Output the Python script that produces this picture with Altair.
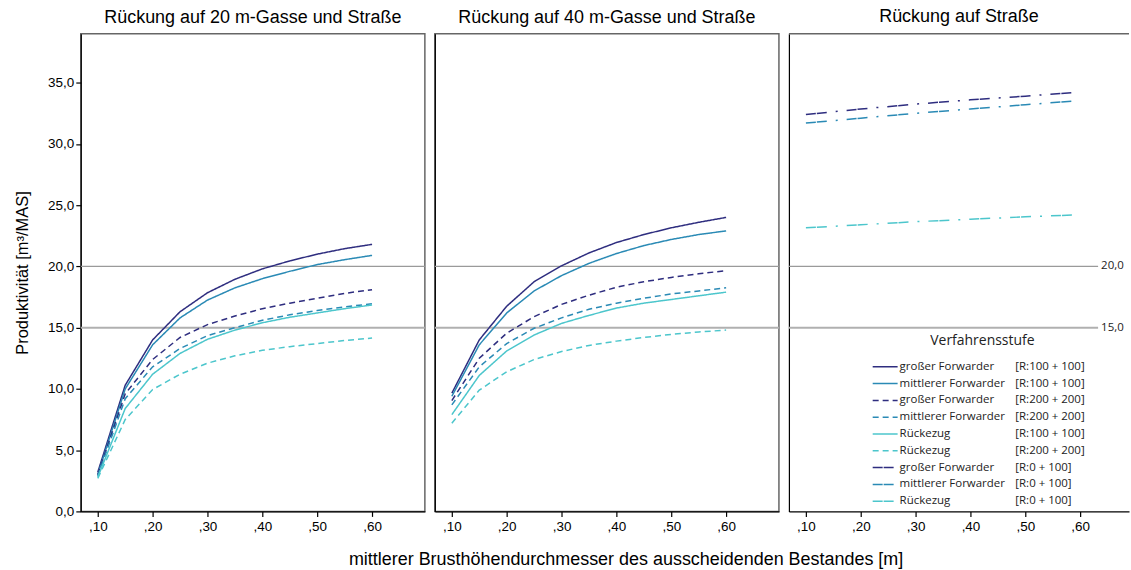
import altair as alt
import pandas as pd

# Mean DBH of the removed trees [m]
DBH = [0.10, 0.15, 0.20, 0.25, 0.30, 0.35, 0.40, 0.45, 0.50, 0.55, 0.60]
DBH_ROAD = [0.10, 0.20, 0.30, 0.40, 0.50, 0.59]

# Productivity [m³/MAS] – extraction to 20 m strip road and forest road
gf100_20 = [3.2, 10.3, 14.0, 16.3, 17.85, 18.95, 19.8, 20.45, 21.0, 21.45, 21.8]
mf100_20 = [3.0, 10.0, 13.6, 15.8, 17.25, 18.25, 19.0, 19.6, 20.15, 20.55, 20.9]
gf200_20 = [3.0, 9.6, 12.4, 14.2, 15.25, 15.95, 16.55, 17.0, 17.4, 17.8, 18.1]
mf200_20 = [2.9, 9.2, 11.8, 13.3, 14.35, 15.0, 15.6, 16.05, 16.4, 16.7, 16.95]
rz100_20 = [2.8, 8.4, 11.2, 12.9, 14.05, 14.8, 15.4, 15.85, 16.2, 16.55, 16.85]
rz200_20 = [2.7, 7.5, 9.95, 11.2, 12.1, 12.7, 13.15, 13.45, 13.7, 13.95, 14.15]

# Productivity [m³/MAS] – extraction to 40 m strip road and forest road
gf100_40 = [9.65, 14.0, 16.75, 18.75, 20.05, 21.1, 21.95, 22.6, 23.15, 23.6, 24.0]
mf100_40 = [9.4, 13.6, 16.2, 18.0, 19.25, 20.25, 21.05, 21.7, 22.2, 22.6, 22.9]
gf200_40 = [9.05, 12.5, 14.55, 15.9, 16.9, 17.65, 18.3, 18.75, 19.1, 19.4, 19.65]
mf200_40 = [8.7, 11.8, 13.7, 14.95, 15.8, 16.5, 17.0, 17.4, 17.75, 18.0, 18.25]
rz100_40 = [7.9, 11.1, 13.1, 14.4, 15.35, 16.0, 16.6, 17.0, 17.3, 17.6, 17.9]
rz200_40 = [7.2, 9.9, 11.4, 12.4, 13.05, 13.55, 13.9, 14.2, 14.45, 14.65, 14.8]

# Productivity [m³/MAS] – extraction to forest road only
gf0_road = [32.4, 32.85, 33.25, 33.6, 33.9, 34.2]
mf0_road = [31.7, 32.1, 32.5, 32.85, 33.2, 33.5]
rz0_road = [23.15, 23.4, 23.65, 23.85, 24.05, 24.2]

PANEL_TITLES = ["Rückung auf 20 m-Gasse und Straße",
                "Rückung auf 40 m-Gasse und Straße",
                "Rückung auf Straße"]
X_TITLE = "mittlerer Brusthöhendurchmesser des ausscheidenden Bestandes [m]"
Y_TITLE = "Produktivität [m³/MAS]"
LEGEND_TITLE = "Verfahrensstufe"

X_TICKS = [0.10, 0.20, 0.30, 0.40, 0.50, 0.60]
Y_TICKS = [0, 5, 10, 15, 20, 25, 30, 35]
REF_LINES = [20, 15]

SERIES = ["gf100", "mf100", "gf200", "mf200", "rz100", "rz200", "gf0", "mf0", "rz0"]
MACHINES = ["großer Forwarder", "mittlerer Forwarder", "großer Forwarder",
            "mittlerer Forwarder", "Rückezug", "Rückezug",
            "großer Forwarder", "mittlerer Forwarder", "Rückezug"]
VARIANTS = ["[R:100 + 100]", "[R:100 + 100]", "[R:200 + 200]", "[R:200 + 200]",
            "[R:100 + 100]", "[R:200 + 200]", "[R:0 + 100]", "[R:0 + 100]",
            "[R:0 + 100]"]

NAVY, TEAL, CYAN = "#2e2d7f", "#2a8ab5", "#4cc6cc"
COLORS = [NAVY, TEAL, NAVY, TEAL, CYAN, CYAN, NAVY, TEAL, CYAN]
SOLID, DASH, DASHDOT = [1, 0], [6, 4], [10, 1, 10, 9, 2, 9]
DASHES = [SOLID, SOLID, DASH, DASH, SOLID, DASH, DASHDOT, DASHDOT, DASHDOT]

AX_FONT = "Liberation Sans"
LEG_FONT = "Open Sans"
PANEL_W, ROAD_W, PANEL_H = 345, 341, 479
PX_PER_UNIT = 550.0   # pixels per 1.0 m of DBH on the x axis
X_MIN = 0.069
FRAME = "#666"


def long_table(xs, series_map):
    rows = []
    for key, vals in series_map.items():
        for x, v in zip(xs, vals):
            rows.append({"series": key, "dbh": x, "value": v})
    return pd.DataFrame(rows)


df20 = long_table(DBH, {"gf100": gf100_20, "mf100": mf100_20, "gf200": gf200_20,
                        "mf200": mf200_20, "rz100": rz100_20, "rz200": rz200_20})
df40 = long_table(DBH, {"gf100": gf100_40, "mf100": mf100_40, "gf200": gf200_40,
                        "mf200": mf200_40, "rz100": rz100_40, "rz200": rz200_40})
dfroad = long_table(DBH_ROAD, {"gf0": gf0_road, "mf0": mf0_road, "rz0": rz0_road})

color_enc = alt.Color("series:N", scale=alt.Scale(domain=SERIES, range=COLORS), legend=None)
dash_enc = alt.StrokeDash("series:N", scale=alt.Scale(domain=SERIES, range=DASHES), legend=None)
one_row = pd.DataFrame({"k": [0]})


def panel(df, title, first=False, road=False):
    width = ROAD_W if road else PANEL_W
    x = alt.X("dbh:Q",
              scale=alt.Scale(domain=[X_MIN, X_MIN + width / PX_PER_UNIT],
                              nice=False, zero=False),
              axis=alt.Axis(values=X_TICKS, title=None, grid=False,
                            labelExpr="replace(format(datum.value, '.2f'), '0.', ',')",
                            tickSize=5, labelPadding=3))
    y = alt.Y("value:Q",
              scale=alt.Scale(domain=[0, 39], nice=False),
              axis=alt.Axis(values=Y_TICKS, grid=False,
                            title=Y_TITLE if first else None,
                            labels=first, ticks=first, tickSize=5,
                            labelExpr="replace(format(datum.value, '.1f'), '.', ',')",
                            titlePadding=17))

    layers = []
    for ref, col, w in zip(REF_LINES, ["#9a9a9a", "#b0b0b0"], [1.2, 2.0]):
        enc = {"y": alt.datum(ref)}
        if road:
            enc.update(x=alt.value(0), x2=alt.value(310))
        layers.append(alt.Chart(one_row).mark_rule(color=col, strokeWidth=w).encode(**enc))

    layers.append(alt.Chart(df).mark_line(strokeWidth=1.5).encode(
        x=x, y=y, color=color_enc, strokeDash=dash_enc, detail="series:N"))

    if road:
        # top border of the open-ended road panel
        layers.append(alt.Chart(one_row).mark_rule(color=FRAME, strokeWidth=1.5).encode(
            x=alt.value(0), x2=alt.value(width), y=alt.value(0)))
        ref_df = pd.DataFrame({"ref": REF_LINES})
        layers.append(alt.Chart(ref_df).transform_calculate(
            lab="replace(format(datum.ref, '.1f'), '.', ',')"
        ).mark_text(align="left", baseline="middle", font=LEG_FONT, fontSize=11.5,
                    color="#222").encode(x=alt.value(313), y=alt.Y("ref:Q"), text="lab:N"))

    chart = alt.layer(*layers)

    if road:
        leg_df = pd.DataFrame({"series": SERIES, "machine": MACHINES,
                               "variant": VARIANTS, "row": list(range(len(SERIES)))})
        leg = alt.Chart(leg_df).transform_calculate(ypx="334 + datum.row * 16.85")
        ly = alt.Y("ypx:Q", scale=None, axis=None)
        sym = leg.mark_rule(strokeWidth=1.5).encode(
            x=alt.value(84), x2=alt.value(109), y=ly,
            color=color_enc, strokeDash=dash_enc)
        text_style = dict(align="left", baseline="middle", font=LEG_FONT,
                          fontSize=11.5, color="#222")
        lab1 = leg.mark_text(**text_style).encode(x=alt.value(111), y=ly, text="machine:N")
        lab2 = leg.mark_text(**text_style).encode(x=alt.value(227), y=ly, text="variant:N")
        ttl = alt.Chart(one_row).mark_text(
            align="center", baseline="middle", font=LEG_FONT, fontSize=14,
            fontWeight="normal", color="#222"
        ).encode(x=alt.value(194), y=alt.value(308), text=alt.value(LEGEND_TITLE))
        chart = alt.layer(chart, sym, lab1, lab2, ttl).resolve_scale(
            x="independent", y="independent")

    props = dict(width=width, height=PANEL_H,
                 title=alt.TitleParams(title, fontSize=18, font=AX_FONT, fontWeight="normal",
                                       anchor="middle", offset=7, color="#000"))
    if road:
        props["view"] = alt.ViewConfig(stroke="transparent")
    return chart.properties(**props)


chart = alt.hconcat(
    panel(df20, PANEL_TITLES[0], first=True),
    panel(df40, PANEL_TITLES[1]),
    panel(dfroad, PANEL_TITLES[2], road=True),
    spacing=6,
).properties(
    title=alt.TitleParams(X_TITLE, orient="bottom", anchor="middle", fontSize=18,
                          font=AX_FONT, fontWeight="normal", color="#000",
                          offset=17, dx=54),
    padding={"left": 13, "top": 6, "right": 0, "bottom": 0},
).configure_view(
    stroke=FRAME, strokeWidth=1.5
).configure_axis(
    domainColor="#000", domainWidth=1.2, tickColor="#000", tickWidth=1.2,
    labelFont=AX_FONT, labelFontSize=13.5, labelColor="#000",
    titleFont=AX_FONT, titleFontSize=16.5, titleFontWeight="normal", titleColor="#000",
)

chart.save("out.html", embed_options={"renderer": "svg", "actions": False})
